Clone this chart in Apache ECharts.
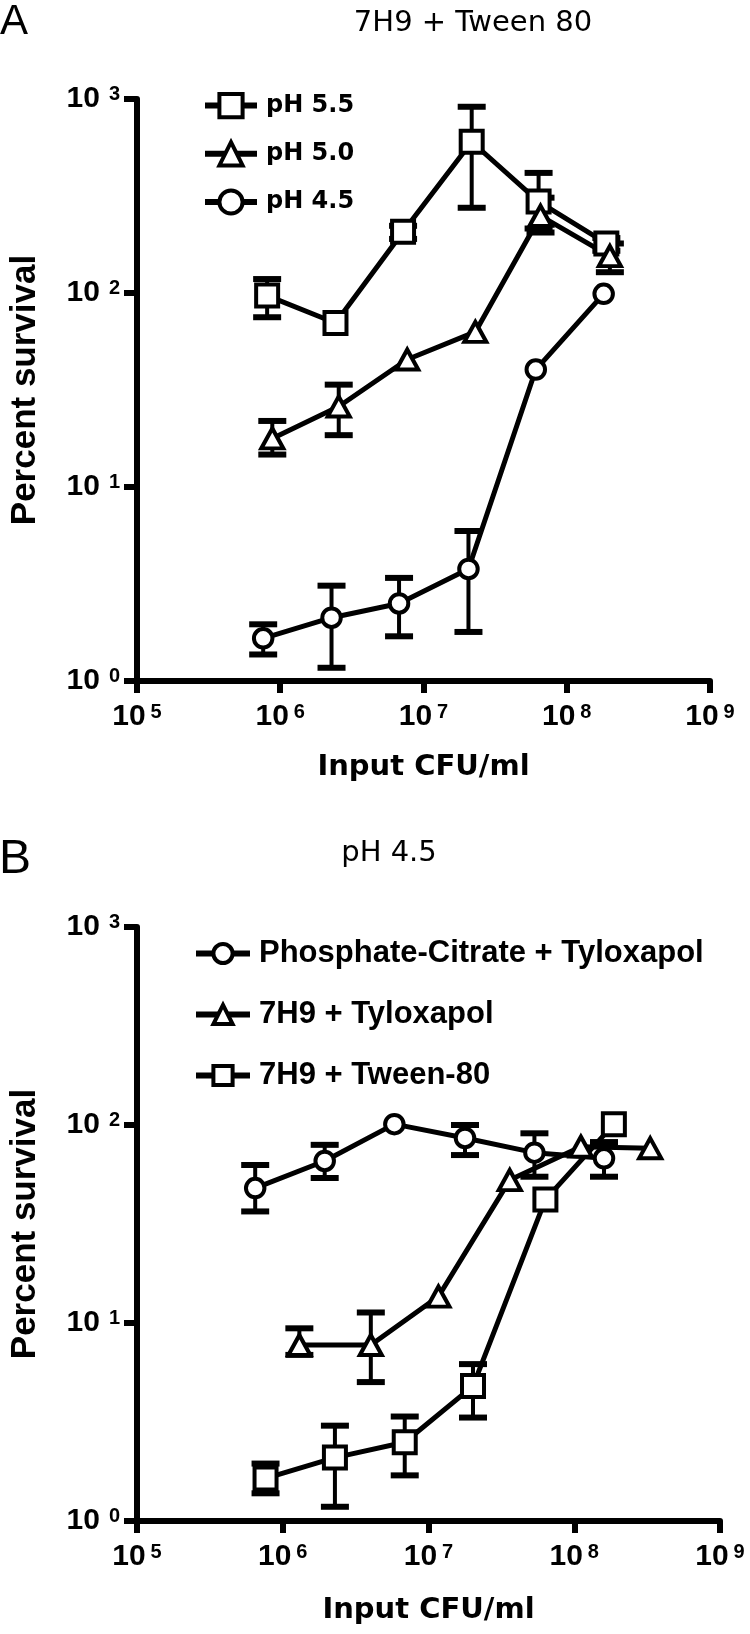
<!DOCTYPE html>
<html>
<head>
<meta charset="utf-8">
<script src="https://cdn.jsdelivr.net/npm/echarts@6/dist/echarts.min.js"></script>
<style>
html,body{margin:0;padding:0;background:#fff;}
#chart{width:750px;height:1634px;}
</style>
</head>
<body>
<div id="chart"></div>
<script>
// ---------- Panel A: 7H9 + Tween 80 ----------
var A_names = ['pH 5.5', 'pH 5.0', 'pH 4.5'];
var A_ph55_x = [8.1e5, 2.43e6, 7.2e6, 2.17e7, 6.36e7, 1.89e8];
var A_ph55_y = [97, 70, 207, 602, 296, 180];
var A_ph55_lo = [75, null, 190, 275, 215, 165];
var A_ph55_hi = [118, null, 222, 912, 416, 192];

var A_ph50_x = [8.8e5, 2.56e6, 7.7e6, 2.3e7, 6.56e7, 2.0e8];
var A_ph50_y = [17.8, 26, 45.4, 63, 250, 155];
var A_ph50_lo = [14.7, 18.5, null, null, 205, 128];
var A_ph50_hi = [21.9, 33.7, null, null, 310, 180];

var A_ph45_x = [7.6e5, 2.28e6, 6.75e6, 2.06e7, 6.08e7, 1.81e8];
var A_ph45_y = [1.66, 2.12, 2.51, 3.78, 40.3, 99];
var A_ph45_lo = [1.37, 1.17, 1.70, 1.79, null, null];
var A_ph45_hi = [1.96, 3.1, 3.4, 5.93, null, null];

// ---------- Panel B: pH 4.5 ----------
var B_names = ['Phosphate-Citrate + Tyloxapol', '7H9 + Tyloxapol', '7H9 + Tween-80'];
var B_pct_x = [6.47e5, 1.94e6, 5.83e6, 1.78e7, 5.33e7, 1.6e8];
var B_pct_y = [48, 65.8, 101, 86, 72.5, 67.9];
var B_pct_lo = [36.6, 54, null, 70.5, 54.8, 54.8];
var B_pct_hi = [62.8, 79.4, null, 100, 90.8, 82];

var B_tylo_x = [1.3e6, 4.02e6, 1.17e7, 3.61e7, 1.11e8, 3.32e8];
var B_tylo_y = [7.74, 7.74, 13.6, 52.7, 77.7, 76.3];
var B_tylo_lo = [6.9, 5.03, null, null, null, null];
var B_tylo_hi = [9.4, 11.3, null, null, null, null];

var B_tw_x = [7.62e5, 2.28e6, 6.87e6, 2.02e7, 6.34e7, 1.87e8];
var B_tw_y = [1.64, 2.09, 2.5, 4.8, 42, 101];
var B_tw_lo = [1.38, 1.18, 1.70, 3.33, null, null];
var B_tw_hi = [1.95, 3.03, 3.37, 6.2, null, null];

var xTicks = [1e5, 1e6, 1e7, 1e8, 1e9];
var yTicks = [1, 10, 100, 1000];

var ARIAL = '"Liberation Sans", Arial, Helvetica, sans-serif';
var DEJAVU = '"DejaVu Sans", sans-serif';

function pts(xs, ys) { return xs.map(function (x, i) { return [x, ys[i]]; }); }
function errs(xs, lo, hi) {
  var out = [];
  xs.forEach(function (x, i) { if (lo[i] != null && hi[i] != null) out.push([x, lo[i], hi[i]]); });
  return out;
}

function errRender(params, api) {
  var x = api.value(0), lo = api.value(1), hi = api.value(2);
  var pLo = api.coord([x, lo]), pHi = api.coord([x, hi]);
  var w = 14;
  var bar = { stroke: '#000', lineWidth: 4 };
  var cap = { stroke: '#000', lineWidth: 6 };
  return {
    type: 'group',
    children: [
      { type: 'line', shape: { x1: pLo[0], y1: pLo[1], x2: pHi[0], y2: pHi[1] }, style: bar },
      { type: 'line', shape: { x1: pLo[0] - w, y1: pLo[1], x2: pLo[0] + w, y2: pLo[1] }, style: cap },
      { type: 'line', shape: { x1: pHi[0] - w, y1: pHi[1], x2: pHi[0] + w, y2: pHi[1] }, style: cap }
    ]
  };
}

function tickRich(gap) {
  return {
    b: { fontFamily: ARIAL, fontWeight: 'bold', fontSize: 30, lineHeight: 30, color: '#000' },
    s: { fontFamily: ARIAL, fontWeight: 'bold', fontSize: 20, lineHeight: 20, verticalAlign: 'top', padding: [0, 0, 0, gap], color: '#000' }
  };
}
function powLabel(v) {
  var e = Math.round(Math.log(v) / Math.LN10);
  return '{b|10}{s|' + e + '}';
}

function xAxisDef(gi, nameGap) {
  return {
    type: 'log', logBase: 10, gridIndex: gi, min: xTicks[0], max: xTicks[xTicks.length - 1],
    name: 'Input CFU/ml', nameLocation: 'middle', nameGap: nameGap,
    nameTextStyle: { fontFamily: DEJAVU, fontWeight: 'bold', fontSize: 29, color: '#000' },
    axisLine: { lineStyle: { color: '#000', width: 6 } },
    axisTick: { length: 12, lineStyle: { color: '#000', width: 6 } },
    minorTick: { show: false }, splitLine: { show: false }, minorSplitLine: { show: false },
    axisLabel: { margin: 21, formatter: powLabel, rich: tickRich(5) }
  };
}
function yAxisDef(gi) {
  return {
    type: 'log', logBase: 10, gridIndex: gi, min: yTicks[0], max: yTicks[yTicks.length - 1],
    name: 'Percent survival', nameLocation: 'middle', nameGap: 94,
    nameTextStyle: { fontFamily: ARIAL, fontWeight: 'bold', fontSize: 35, color: '#000' },
    axisLine: { lineStyle: { color: '#000', width: 6 } },
    axisTick: { length: 13, lineStyle: { color: '#000', width: 6 } },
    minorTick: { show: false }, splitLine: { show: false }, minorSplitLine: { show: false },
    axisLabel: { margin: 17, formatter: powLabel, rich: tickRich(9) }
  };
}

function lineSeries(name, gi, data, symbol, size) {
  return {
    type: 'line', name: name, xAxisIndex: gi, yAxisIndex: gi, data: data,
    symbol: symbol, symbolSize: size, showAllSymbol: true, z: 3,
    lineStyle: { color: '#000', width: 5 },
    itemStyle: { color: '#fff', borderColor: '#000', borderWidth: 4 },
    emphasis: { disabled: true }, animation: false
  };
}
function errSeries(gi, data) {
  return {
    type: 'custom', xAxisIndex: gi, yAxisIndex: gi, data: data, z: 2,
    encode: { x: 0, y: [1, 2] }, renderItem: errRender, animation: false, silent: true
  };
}

function legendDef(names, left, top, iw, ih, gap, font, fs) {
  return {
    orient: 'vertical', left: left, top: top, itemWidth: iw, itemHeight: ih, itemGap: gap,
    data: names, selectedMode: false,
    lineStyle: { width: 6, color: '#000' },
    itemStyle: { color: '#fff', borderColor: '#000', borderWidth: 4 },
    textStyle: { fontFamily: font, fontWeight: 'bold', fontSize: fs, color: '#000', padding: [0, 0, 0, 4] }
  };
}

var option = {
  backgroundColor: '#fff',
  animation: false,
  grid: [
    { left: 130, top: 99, width: 580, height: 582 },
    { left: 130, top: 927, width: 590, height: 594 }
  ],
  xAxis: [xAxisDef(0, 72), xAxisDef(1, 75)],
  yAxis: [yAxisDef(0), yAxisDef(1)],
  legend: [
    legendDef(A_names, 197, 87, 52, 29, 21, DEJAVU, 24),
    legendDef(B_names, 188, 933, 54, 24, 30, ARIAL, 31)
  ],
  graphic: [
    { type: 'text', x: 0, y: 22, style: { text: 'A', font: '42px ' + ARIAL, fill: '#000', textVerticalAlign: 'middle' } },
    { type: 'text', x: 473, y: 23, style: { text: '7H9 + Tween 80', font: '29px ' + DEJAVU, fill: '#000', textAlign: 'center', textVerticalAlign: 'middle' } },
    { type: 'text', x: -1, y: 860, style: { text: 'B', font: '48px ' + ARIAL, fill: '#000', textVerticalAlign: 'middle' } },
    { type: 'text', x: 389, y: 853, style: { text: 'pH 4.5', font: '29px ' + DEJAVU, fill: '#000', textAlign: 'center', textVerticalAlign: 'middle' } }
  ],
  series: [
    errSeries(0, errs(A_ph55_x, A_ph55_lo, A_ph55_hi)),
    errSeries(0, errs(A_ph50_x, A_ph50_lo, A_ph50_hi)),
    errSeries(0, errs(A_ph45_x, A_ph45_lo, A_ph45_hi)),
    lineSeries(A_names[0], 0, pts(A_ph55_x, A_ph55_y), 'rect', 22),
    lineSeries(A_names[1], 0, pts(A_ph50_x, A_ph50_y), 'triangle', [22, 20]),
    lineSeries(A_names[2], 0, pts(A_ph45_x, A_ph45_y), 'circle', 18.5),
    errSeries(1, errs(B_pct_x, B_pct_lo, B_pct_hi)),
    errSeries(1, errs(B_tylo_x, B_tylo_lo, B_tylo_hi)),
    errSeries(1, errs(B_tw_x, B_tw_lo, B_tw_hi)),
    lineSeries(B_names[0], 1, pts(B_pct_x, B_pct_y), 'circle', 18.5),
    lineSeries(B_names[1], 1, pts(B_tylo_x, B_tylo_y), 'triangle', [22, 20]),
    lineSeries(B_names[2], 1, pts(B_tw_x, B_tw_y), 'rect', 22)
  ]
};

var chart = echarts.init(document.getElementById('chart'), null, { renderer: 'canvas' });
chart.setOption(option);
</script>
</body>
</html>
